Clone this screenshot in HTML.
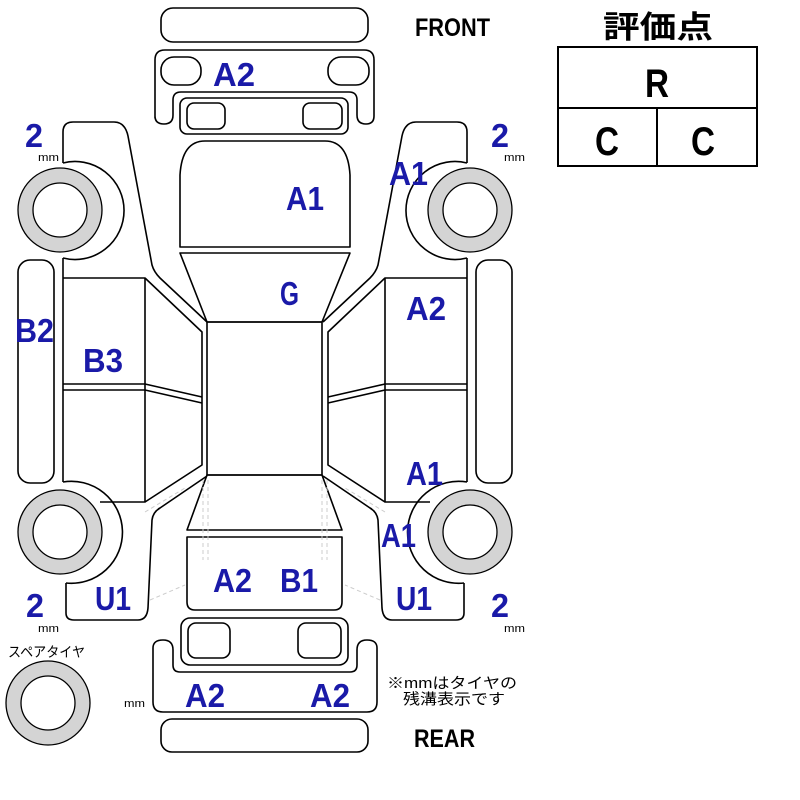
<!DOCTYPE html>
<html><head><meta charset="utf-8"><style>
html,body{margin:0;padding:0;background:#fff;}
svg{display:block;}
.l{fill:none;stroke:#000;stroke-width:1.6;stroke-linejoin:round;}
.b{font-family:"Liberation Sans",sans-serif;font-weight:bold;fill:#1a1aa8;}
.k{font-family:"Liberation Sans","Noto Sans CJK JP",sans-serif;fill:#000;}
</style></head><body>
<svg width="800" height="800" viewBox="0 0 800 800" xmlns="http://www.w3.org/2000/svg">
<defs>
<g id="side">
  <path class="l" d="M63,163 L63,132 Q63,122 73,122 L114,122 Q125,122 128,136 L152,265 Q154,272 160,278 L207,322"/>
  <path class="l" d="M63,163 A49,49 0 1 1 63,258"/>
  <circle cx="60" cy="210" r="42" fill="#d4d4d4" stroke="#000" stroke-width="1.3"/>
  <circle cx="60" cy="210" r="27" fill="#fff" stroke="#000" stroke-width="1.3"/>
  <rect class="l" x="18" y="260" width="36" height="223" rx="12"/>
  <path class="l" d="M63,258 L63,482"/>
  <path class="l" d="M63,278 L145,278 L145,502 L100,502"/>
  <path class="l" d="M145,278 L202,332 L202,465 L145,502"/>
  <path class="l" d="M63,384 L145,384 L202,397"/>
  <path class="l" d="M63,390 L145,390 L202,403"/>
  <path class="l" d="M63,482 A51,51 0 1 1 66,583"/>
  <circle cx="60" cy="532" r="42" fill="#d4d4d4" stroke="#000" stroke-width="1.3"/>
  <circle cx="60" cy="532" r="27" fill="#fff" stroke="#000" stroke-width="1.3"/>
  <path class="l" d="M66,583 L66,613 Q66,620 74,620 L138,620 Q147,620 148,608 L152,520 Q153,512 160,508 L207,476"/>
  <path d="M145,512 L185,488 M150,600 L185,585" stroke="#ccc" stroke-width="1" stroke-dasharray="4,3" fill="none"/>
</g>
</defs>
<use href="#side"/>
<use href="#side" transform="translate(530,0) scale(-1,1)"/>

<rect class="l" x="161" y="8" width="207" height="34" rx="12"/>
<path class="l" d="M155,118 L155,60 Q155,50 165,50 L364,50 Q374,50 374,60 L374,116 Q374,124 366,124 Q357,124 357,115 L357,100 Q357,92 349,92 L181,92 Q173,92 173,100 L173,115 Q173,124 164,124 Q155,124 155,116 Z"/>
<rect class="l" x="161" y="57" width="40" height="28" rx="13"/>
<rect class="l" x="328" y="57" width="41" height="28" rx="13"/>
<rect class="l" x="180" y="98" width="168" height="36" rx="7"/>
<rect class="l" x="187" y="103" width="38" height="26" rx="7"/>
<rect class="l" x="303" y="103" width="39" height="26" rx="7"/>
<path class="l" d="M180,247 L180,175 Q182,141 205,141 L325,141 Q348,141 350,175 L350,247 Z"/>
<path class="l" d="M180,253 L350,253 L322,322 L207,322 Z"/>
<rect class="l" x="207" y="322" width="115" height="153"/>
<path class="l" d="M207,475 L322,475 L342,530 L187,530 Z"/>
<path class="l" d="M187,537 L342,537 L342,602 Q342,610 334,610 L195,610 Q187,610 187,602 Z"/>
<path d="M203,480 L203,560 M208,480 L208,560 M322,480 L322,560 M327,480 L327,560" stroke="#ccc" stroke-width="1" stroke-dasharray="4,3" fill="none"/>
<rect class="l" x="181" y="618" width="167" height="47" rx="9"/>
<rect class="l" x="188" y="623" width="42" height="35" rx="8"/>
<rect class="l" x="298" y="623" width="43" height="35" rx="8"/>
<path class="l" d="M153,648 Q153,640 163,640 Q173,640 173,650 L173,665 Q173,672 180,672 L350,672 Q357,672 357,665 L357,650 Q357,640 367,640 Q377,640 377,648 L377,702 Q377,712 367,712 L163,712 Q153,712 153,702 Z"/>
<rect class="l" x="161" y="719" width="207" height="33" rx="11"/>

<circle cx="48" cy="703" r="42" fill="#d4d4d4" stroke="#000" stroke-width="1.3"/>
<circle cx="48" cy="703" r="27" fill="#fff" stroke="#000" stroke-width="1.3"/>
<text class="k" x="8" y="657" font-size="14" textLength="77" lengthAdjust="spacingAndGlyphs">スペアタイヤ</text>

<g class="b" font-size="33">
<text x="213" y="86" textLength="42" lengthAdjust="spacingAndGlyphs">A2</text>
<text x="286" y="210" textLength="38" lengthAdjust="spacingAndGlyphs">A1</text>
<text x="280" y="305" textLength="19" lengthAdjust="spacingAndGlyphs">G</text>
<text x="389" y="185" textLength="39" lengthAdjust="spacingAndGlyphs">A1</text>
<text x="406" y="320" textLength="40" lengthAdjust="spacingAndGlyphs">A2</text>
<text x="15" y="342" textLength="39" lengthAdjust="spacingAndGlyphs">B2</text>
<text x="83" y="372" textLength="40" lengthAdjust="spacingAndGlyphs">B3</text>
<text x="406" y="485" textLength="37" lengthAdjust="spacingAndGlyphs">A1</text>
<text x="381" y="547" textLength="35" lengthAdjust="spacingAndGlyphs">A1</text>
<text x="213" y="592" textLength="39" lengthAdjust="spacingAndGlyphs">A2</text>
<text x="280" y="592" textLength="38" lengthAdjust="spacingAndGlyphs">B1</text>
<text x="95" y="610" textLength="36" lengthAdjust="spacingAndGlyphs">U1</text>
<text x="396" y="610" textLength="36" lengthAdjust="spacingAndGlyphs">U1</text>
<text x="185" y="707" textLength="40" lengthAdjust="spacingAndGlyphs">A2</text>
<text x="310" y="707" textLength="40" lengthAdjust="spacingAndGlyphs">A2</text>
<text x="25" y="147" textLength="18" lengthAdjust="spacingAndGlyphs">2</text>
<text x="491" y="147" textLength="18" lengthAdjust="spacingAndGlyphs">2</text>
<text x="26" y="617" textLength="18" lengthAdjust="spacingAndGlyphs">2</text>
<text x="491" y="617" textLength="18" lengthAdjust="spacingAndGlyphs">2</text>
</g>
<g class="k" font-size="11">
<text x="38" y="161" textLength="21" lengthAdjust="spacingAndGlyphs">mm</text>
<text x="504" y="161" textLength="21" lengthAdjust="spacingAndGlyphs">mm</text>
<text x="38" y="632" textLength="21" lengthAdjust="spacingAndGlyphs">mm</text>
<text x="504" y="632" textLength="21" lengthAdjust="spacingAndGlyphs">mm</text>
<text x="124" y="707" textLength="21" lengthAdjust="spacingAndGlyphs">mm</text>
</g>
<text class="k" x="387" y="688" font-size="15" textLength="130" lengthAdjust="spacingAndGlyphs">※mmはタイヤの</text>
<text class="k" x="403" y="704" font-size="15" textLength="102" lengthAdjust="spacingAndGlyphs">残溝表示です</text>
<text class="k" x="415" y="36" font-size="25" font-weight="bold" textLength="75" lengthAdjust="spacingAndGlyphs">FRONT</text>
<text class="k" x="414" y="747" font-size="25" font-weight="bold" textLength="61" lengthAdjust="spacingAndGlyphs">REAR</text>

<text class="k" x="603" y="38" font-size="31" font-weight="bold" textLength="110" lengthAdjust="spacingAndGlyphs">評価点</text>
<rect x="558" y="47" width="199" height="119" fill="none" stroke="#000" stroke-width="2"/>
<line x1="558" y1="108" x2="757" y2="108" stroke="#000" stroke-width="2"/>
<line x1="657" y1="108" x2="657" y2="166" stroke="#000" stroke-width="2"/>
<text class="k" x="657" y="97" font-size="40" font-weight="bold" text-anchor="middle" textLength="24" lengthAdjust="spacingAndGlyphs">R</text>
<text class="k" x="607" y="155" font-size="40" font-weight="bold" text-anchor="middle" textLength="24" lengthAdjust="spacingAndGlyphs">C</text>
<text class="k" x="703" y="155" font-size="40" font-weight="bold" text-anchor="middle" textLength="24" lengthAdjust="spacingAndGlyphs">C</text>
</svg>
</body></html>
